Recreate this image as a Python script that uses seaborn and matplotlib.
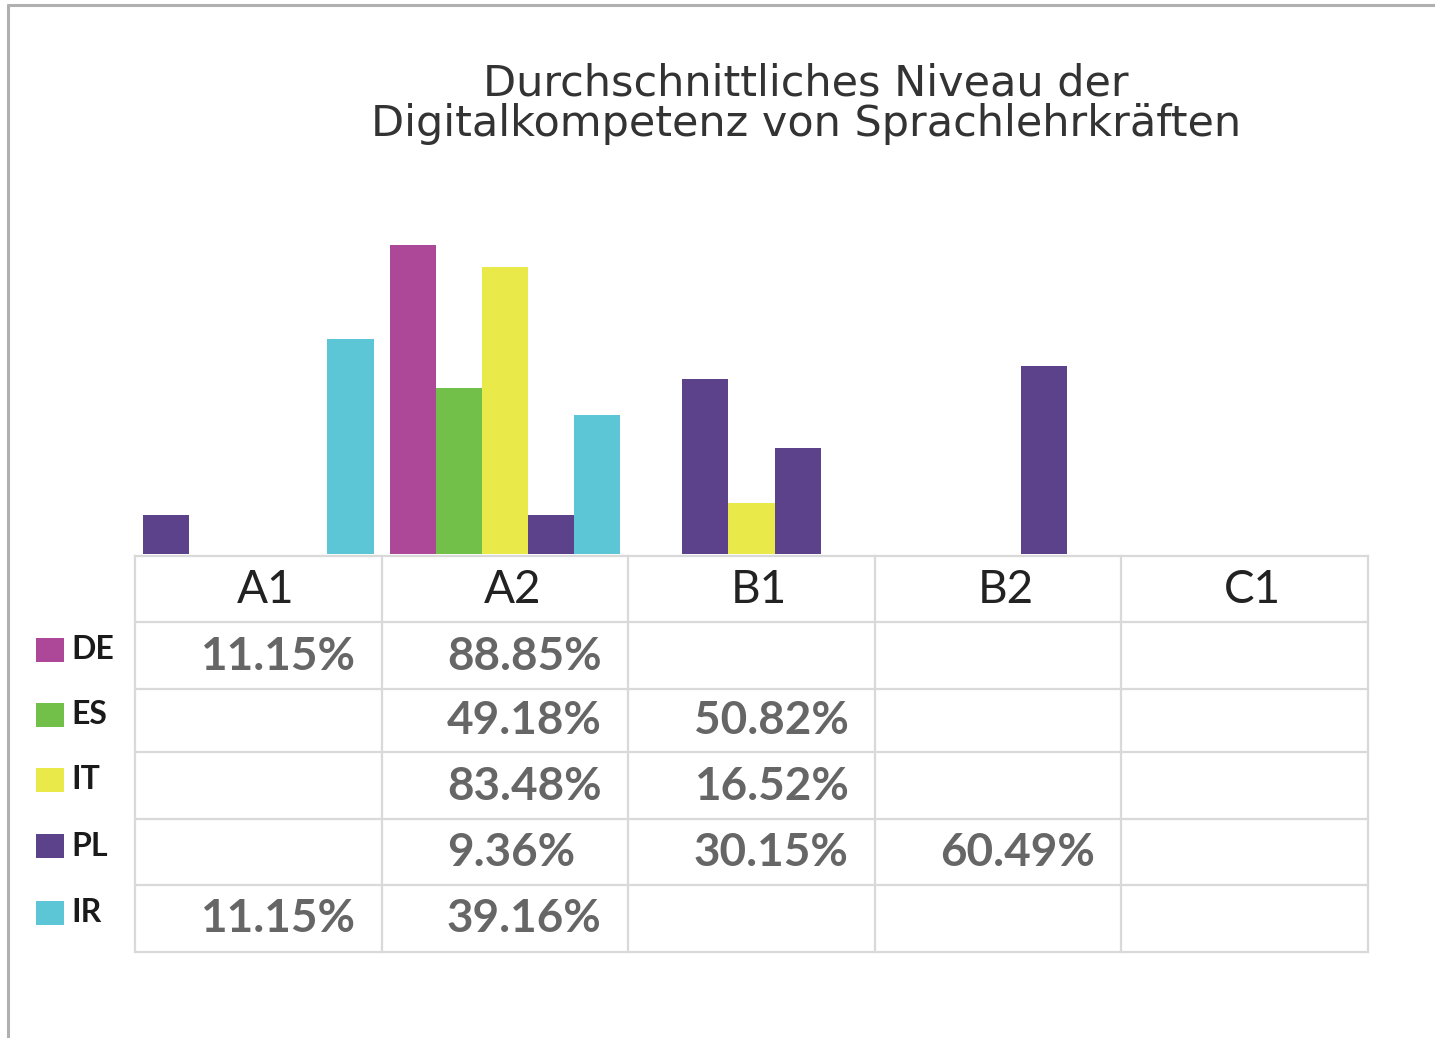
import numpy as np
import pandas as pd
import matplotlib
matplotlib.use("Agg")
import matplotlib.pyplot as plt
from matplotlib.patches import Rectangle
from matplotlib.lines import Line2D
import seaborn as sns

levels = ["A1", "A2", "B1", "B2", "C1"]
countries = ["DE", "ES", "IT", "PL", "IR"]
country_colors = ["#ad4898", "#72bf4a", "#eae94a", "#5b428b", "#5dc6d6"]

# values printed in the data table under the chart
table_de = ["11.15%", "88.85%", "", "", ""]
table_es = ["", "49.18%", "50.82%", "", ""]
table_it = ["", "83.48%", "16.52%", "", ""]
table_pl = ["", "9.36%", "30.15%", "60.49%", ""]
table_ir = ["11.15%", "39.16%", "", "", ""]

# bars as they are drawn: level, slot in the group, colour used, height
bar_level = ["A1", "A1", "A2", "A2", "A2", "A2", "A2", "B1", "B1", "B1", "B2"]
bar_slot = ["DE", "IR", "DE", "ES", "IT", "PL", "IR", "ES", "IT", "PL", "PL"]
bar_drawn = ["PL", "IR", "DE", "ES", "IT", "PL", "IR", "PL", "IT", "PL", "PL"]
bar_height = [11.2, 61.8, 88.85, 47.7, 82.5, 11.2, 40.0, 50.3, 14.7, 30.5, 54.1]

W, H = 1435, 1038


def fx(px):
    return px / W


def fy(py):
    return 1 - py / H


sns.set_style("white")
plt.rcParams["font.family"] = ["Lato", "DejaVu Sans"]

fig = plt.figure(figsize=(W / 100, H / 100), dpi=100)

left, right = 135, 1368
base, top = 554, 245

# bars
ax = fig.add_axes([fx(left), fy(base), fx(right - left), (base - top) / H])
df = pd.DataFrame({"level": bar_level, "country": bar_slot, "value": bar_height})
palette = dict(zip(countries, country_colors))
bar_w = 0.935
sns.barplot(data=df, x="level", y="value", hue="country", order=levels,
            hue_order=countries, palette=palette, width=bar_w, saturation=1,
            errorbar=None, legend=False, ax=ax)

drawn = {(l, s): palette[c] for l, s, c in zip(bar_level, bar_slot, bar_drawn)}
slot_w = bar_w / len(countries)
for p in ax.patches:
    cx = p.get_x() + p.get_width() / 2
    li = int(round(cx))
    si = int(round((cx - li + bar_w / 2) / slot_w - 0.5))
    key = (levels[li], countries[si])
    if key in drawn:
        p.set_facecolor(drawn[key])
    p.set_edgecolor("none")

ax.set_xlim(-0.5, 4.5)
ax.set_ylim(0, max(bar_height))
ax.axis("off")

# data table
row_lines = [555.5, 622, 689, 752, 819, 885, 952]
tax = fig.add_axes([fx(left), fy(row_lines[-1]), fx(right - left),
                    (row_lines[-1] - row_lines[0]) / H])
tax.set_xlim(-0.5, 4.5)
tax.set_ylim(row_lines[-1], row_lines[0])
tax.axis("off")

grid = "#d9d9d9"
for y in row_lines:
    tax.plot([-0.5, 4.5], [y, y], color=grid, lw=1.6, clip_on=False,
             solid_capstyle="projecting")
for i in range(len(levels) + 1):
    tax.plot([i - 0.5, i - 0.5], [row_lines[0], row_lines[-1]], color=grid,
             lw=1.6, clip_on=False, solid_capstyle="projecting")

for i, lv in enumerate(levels):
    tax.text(i + 0.03, (row_lines[0] + row_lines[1]) / 2 + 1, lv, ha="center",
             va="center", fontsize=33, color="#222222")

table_rows = [table_de, table_es, table_it, table_pl, table_ir]
for r, (name, col, vals) in enumerate(zip(countries, country_colors, table_rows)):
    yc = (row_lines[r + 1] + row_lines[r + 2]) / 2
    for i, v in enumerate(vals):
        if v:
            tax.text(i - 0.5 + 0.265, yc + 1, v, ha="left", va="center",
                     fontsize=33, fontweight="bold", color="#666666")
    ky = yc - 6
    fig.add_artist(Rectangle((fx(36), fy(ky + 12)), fx(28), 24 / H,
                             transform=fig.transFigure, color=col, lw=0))
    fig.text(fx(71), fy(ky), name, ha="left", va="center", fontsize=23,
             fontweight="bold", color="#1a1a1a")

# title
fig.text(fx(806), fy(63), "Durchschnittliches Niveau der\nDigitalkompetenz von Sprachlehrkräften",
         ha="center", va="top", fontsize=31, linespacing=0.93, color="#333333",
         family=["DejaVu Sans"])

# frame lines at top and left
fig.add_artist(Line2D([fx(7.5), 1], [fy(4.5), fy(4.5)], color="#b0b0b0", lw=2.2))
fig.add_artist(Line2D([fx(7.5), fx(7.5)], [fy(4.5), 0], color="#b0b0b0", lw=2.2))

fig.savefig("out.png", dpi=100, facecolor="white")
